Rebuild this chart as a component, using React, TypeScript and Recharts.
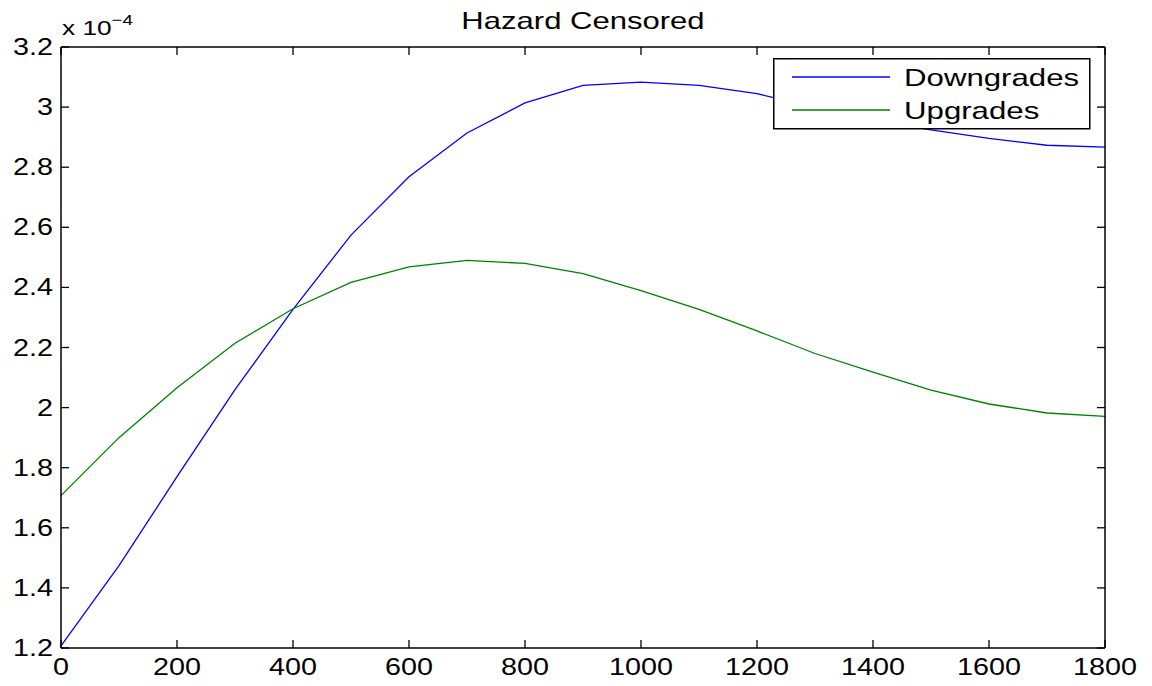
import React from 'react';
import { LineChart, Line, XAxis, YAxis, Legend } from 'recharts';

// hazard values are in units of 1e-4 (as shown by the "x 10^-4" axis multiplier)
const times = [0, 100, 200, 300, 400, 500, 600, 700, 800, 900, 1000, 1100, 1200, 1300, 1400, 1500, 1600, 1700, 1800];
const downgrades = [1.207, 1.474, 1.77, 2.06, 2.327, 2.574, 2.768, 2.914, 3.014, 3.072, 3.083, 3.072, 3.045, 2.998, 2.956, 2.924, 2.896, 2.873, 2.867];
const upgrades = [1.707, 1.9, 2.066, 2.214, 2.329, 2.417, 2.468, 2.49, 2.48, 2.446, 2.389, 2.327, 2.255, 2.18, 2.118, 2.058, 2.012, 1.982, 1.971];

const xTicks = [0, 200, 400, 600, 800, 1000, 1200, 1400, 1600, 1800];
const yTicks = [1.2, 1.4, 1.6, 1.8, 2, 2.2, 2.4, 2.6, 2.8, 3, 3.2];

const seriesNames = ['Downgrades', 'Upgrades'];
const seriesColors = ['#0000ff', '#008000'];

const data = times.map((t, i) => ({ t, down: downgrades[i], up: upgrades[i] }));

const FONT = '"Liberation Sans", Arial, Helvetica, sans-serif';
const SX = 1.25; // the source image is stretched horizontally
const TICK = 8;

const fmt = (v: number) => String(Number(v.toFixed(1)));

const BottomTick = ({ x, y, payload }: any) => (
  <g>
    <line x1={x} x2={x} y1={y} y2={y - TICK} stroke="#000" strokeWidth={1.3} />
    <text
      transform={`translate(${x} ${y + 27}) scale(${SX} 1)`}
      textAnchor="middle"
      fontFamily={FONT}
      fontSize={23}
      fill="#000"
    >
      {payload.value}
    </text>
  </g>
);

const LeftTick = ({ x, y, payload }: any) => (
  <g>
    <line x1={x} x2={x + TICK} y1={y} y2={y} stroke="#000" strokeWidth={1.3} />
    <text
      transform={`translate(${x - 8} ${y + 8}) scale(${SX} 1)`}
      textAnchor="end"
      fontFamily={FONT}
      fontSize={23}
      fill="#000"
    >
      {fmt(payload.value)}
    </text>
  </g>
);

const TopTick = ({ x, y }: any) => (
  <line x1={x} x2={x} y1={y} y2={y + TICK} stroke="#000" strokeWidth={1.3} />
);

const RightTick = ({ x, y }: any) => (
  <line x1={x} x2={x - TICK} y1={y} y2={y} stroke="#000" strokeWidth={1.3} />
);

const TitleLabel = ({ viewBox }: any) => (
  <g>
    <text
      transform={`translate(${viewBox.x + viewBox.width / 2} ${viewBox.y - 17}) scale(1.35 1)`}
      textAnchor="middle"
      fontFamily={FONT}
      fontSize={23}
      fill="#000"
    >
      Hazard Censored
    </text>
    <text
      transform={`translate(${viewBox.x + 1} ${viewBox.y - 11}) scale(${SX} 1)`}
      fontFamily={FONT}
      fontSize={21}
      fill="#000"
    >
      x 10
      <tspan dy={-10} fontSize={15}>−4</tspan>
    </text>
  </g>
);

const LegendBox = () => (
  <svg width={318} height={72} style={{ display: 'block' }}>
    <rect x={0.75} y={0.75} width={316} height={70} fill="#fff" stroke="#000" strokeWidth={1.5} />
    {seriesNames.map((name, i) => (
      <g key={name}>
        <line x1={19} x2={117} y1={19 + i * 33} y2={19 + i * 33} stroke={seriesColors[i]} strokeWidth={1.3} />
        <text
          transform={`translate(131 ${28 + i * 33}) scale(1.3 1)`}
          fontFamily={FONT}
          fontSize={24}
          fill="#000"
        >
          {name}
        </text>
      </g>
    ))}
  </svg>
);

export default function App() {
  return (
    <div style={{ position: 'absolute', left: 0, top: 0, background: '#fff' }}>
      <LineChart width={1152} height={686} data={data} margin={{ top: 46, right: 46, left: 0, bottom: 0 }}>
        <XAxis
          dataKey="t"
          type="number"
          domain={[0, 1800]}
          ticks={xTicks}
          interval={0}
          height={38}
          tickSize={0}
          tickMargin={0}
          tickLine={false}
          tick={<BottomTick />}
          axisLine={{ stroke: '#000', strokeWidth: 1.5 }}
        />
        <XAxis
          xAxisId="top"
          orientation="top"
          dataKey="t"
          type="number"
          domain={[0, 1800]}
          ticks={xTicks}
          interval={0}
          height={1}
          tickSize={0}
          tickMargin={0}
          tickLine={false}
          tick={<TopTick />}
          axisLine={{ stroke: '#000', strokeWidth: 1.5 }}
          label={<TitleLabel />}
        />
        <YAxis
          type="number"
          domain={[1.2, 3.2]}
          ticks={yTicks}
          interval={0}
          width={61}
          tickSize={0}
          tickMargin={0}
          tickLine={false}
          tick={<LeftTick />}
          axisLine={{ stroke: '#000', strokeWidth: 1.5 }}
          allowDataOverflow
        />
        <YAxis
          yAxisId="right"
          orientation="right"
          type="number"
          domain={[1.2, 3.2]}
          ticks={yTicks}
          interval={0}
          width={1}
          tickSize={0}
          tickMargin={0}
          tickLine={false}
          tick={<RightTick />}
          axisLine={{ stroke: '#000', strokeWidth: 1.5 }}
          allowDataOverflow
        />
        <Line dataKey="down" name={seriesNames[0]} stroke={seriesColors[0]} strokeWidth={1.3} dot={false} isAnimationActive={false} />
        <Line
          dataKey="up"
          name={seriesNames[1]}
          xAxisId="top"
          yAxisId="right"
          stroke={seriesColors[1]}
          strokeWidth={1.3}
          dot={false}
          isAnimationActive={false}
        />
        <Legend
          layout="vertical"
          align="center"
          verticalAlign="middle"
          content={<LegendBox />}
          wrapperStyle={{ left: 773, top: 58, width: 318, height: 72 }}
        />
      </LineChart>
    </div>
  );
}
